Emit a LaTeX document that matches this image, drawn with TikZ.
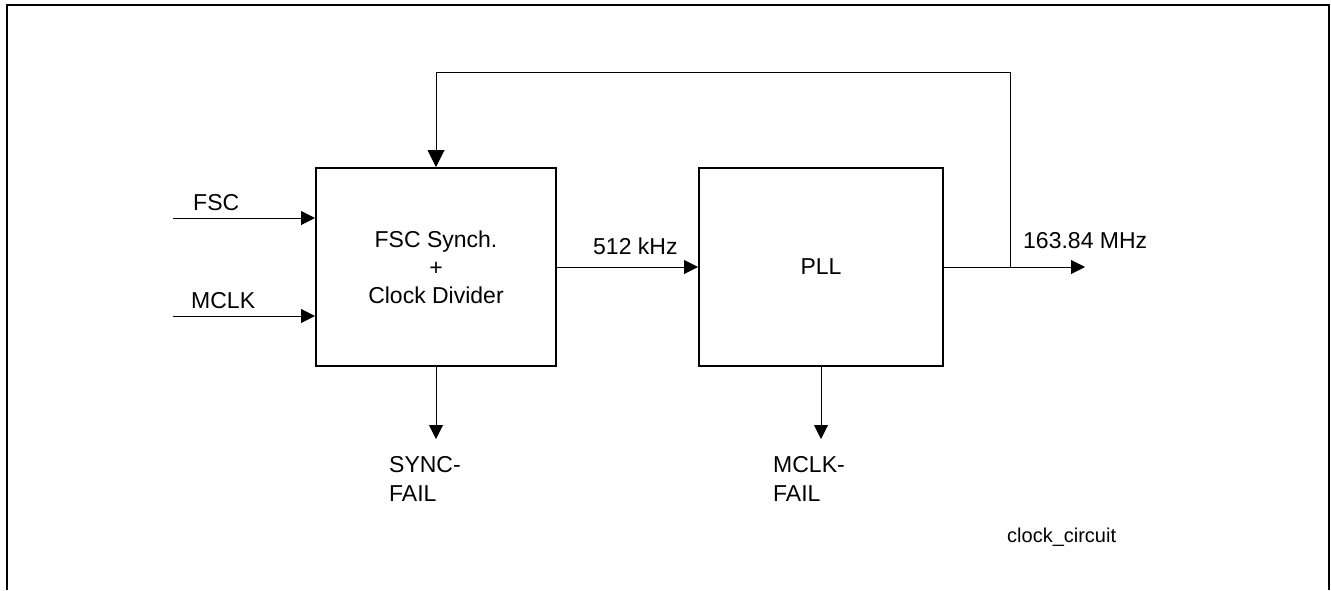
\documentclass[tikz,border=0pt]{standalone}
\usepackage{fontspec}
\setmainfont{Liberation Sans}
\usetikzlibrary{arrows.meta,positioning}

\tikzset{
  block/.style={draw, line width=2pt, minimum width=240pt, minimum height=198pt, align=center, inner sep=0pt},
  sig/.style={line width=1pt, -{Triangle[length=14pt, width=14pt]}},
  lbl/.style={anchor=base west, inner sep=0pt, align=left},
}

\begin{document}
\begin{tikzpicture}[x=1pt, y=-1pt, every node/.style={font=\fontsize{23}{28}\selectfont}]
  \useasboundingbox (0,0) rectangle (1331,590);
  % frame
  \draw[line width=2pt] (7,590) -- (7,5) -- (1329,5) -- (1329,590);
  % blocks
  \node[block] (sync) at (436,267) {FSC Synch.\\+\\Clock Divider};
  \node[block, minimum width=244pt] (pll) at (821,267) {PLL};
  % inputs
  \coordinate (fscin) at (173,218);
  \coordinate (mclkin) at (173,316);
  \draw[sig] (fscin) -- (fscin -| sync.west);
  \draw[sig] (mclkin) -- (mclkin -| sync.west);
  \node[lbl] (fsc) at (193,210) {FSC};
  \node[lbl] (mclk) at (191,308) {MCLK};
  % 512 kHz
  \draw[sig] (sync.east) -- (pll.west);
  \node[lbl] (khz) at (593,254) {512 kHz};
  % output and feedback
  \coordinate (tap) at (1010,267);
  \coordinate (outtip) at (1085,267);
  \coordinate (fbtop) at (1010,72);
  \draw[sig] (pll.east) -- (outtip);
  \draw[sig, -{Triangle[length=17pt, width=17pt]}] (tap) -- (fbtop) -| (sync.north);
  \node[lbl] (mhz) at (1023,248) {163.84 MHz};
  % fail outputs
  \coordinate (syncend) at (436,439);
  \coordinate (mclkend) at (821,439);
  \draw[sig] (sync.south) -- (syncend);
  \draw[sig] (pll.south) -- (mclkend);
  \node[lbl, font=\fontsize{23}{29}\selectfont] (syncfail) at (389,501) {SYNC-\\FAIL};
  \node[lbl, font=\fontsize{23}{29}\selectfont] (mclkfail) at (773,501) {MCLK-\\FAIL};
  % figure name
  \node[lbl, font=\fontsize{20}{24}\selectfont] (figname) at (1007,542) {clock\_circuit};
\end{tikzpicture}
\end{document}
